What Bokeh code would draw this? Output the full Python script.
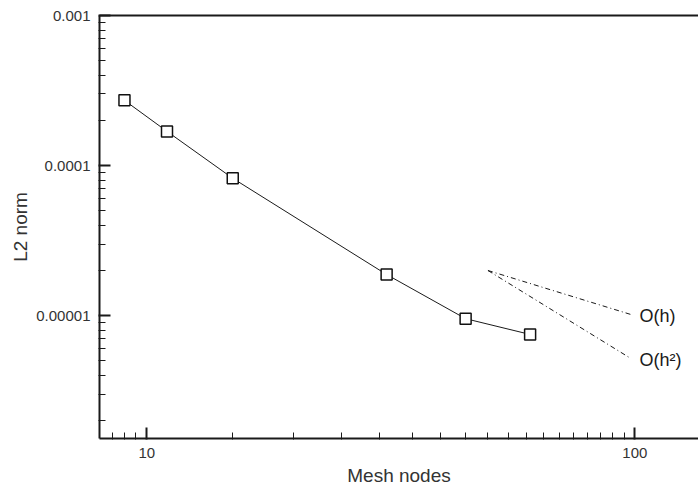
from bokeh.plotting import figure
from bokeh.models import LogAxis, FixedTicker, Range1d
from bokeh.core.properties import value
from bokeh.embed import file_html
from bokeh.resources import INLINE

# ---- data ----
mesh_nodes = [9, 11, 15, 31, 45, 61]
l2_norm = [2.72e-4, 1.69e-4, 8.23e-5, 1.88e-5, 9.55e-6, 7.5e-6]

ref_x = [50, 98]
ref_oh = [2.0e-5, 1.02e-5]
ref_oh2 = [2.0e-5, 5.2e-6]
ref_labels = ["O(h)", "O(h²)"]

x_lo, x_hi = 8, 135
y_lo, y_hi = 1.52e-6, 1e-3

x_major = [10, 100]
x_major_labels = ["10", "100"]
x_minor = [8.5, 9, 9.5, 15, 20, 25, 30, 35, 40, 45, 50, 55, 60, 65, 70, 75, 80,
           85, 90, 95]
y_major = [1e-3, 1e-4, 1e-5]
y_major_labels = ["0.001", "0.0001", "0.00001"]
y_minor = [2e-6, 3e-6, 4e-6, 5e-6, 6e-6, 7e-6, 8e-6, 9e-6,
           2e-5, 3e-5, 4e-5, 5e-5, 6e-5, 7e-5, 8e-5, 9e-5,
           2e-4, 3e-4, 4e-4, 5e-4, 6e-4, 7e-4, 8e-4, 9e-4]

FONT = "Liberation Sans"
INK = "#1a1a1a"

p = figure(width=698, height=488, x_axis_type="log", y_axis_type="log",
           x_range=Range1d(x_lo, x_hi), y_range=Range1d(y_lo, y_hi),
           output_backend="svg", toolbar_location=None,
           min_border_left=99, min_border_right=0, min_border_top=15,
           min_border_bottom=50)
p.xgrid.visible = False
p.ygrid.visible = False
p.outline_line_color = None
p.background_fill_color = "white"
p.border_fill_color = "white"

xa = p.xaxis[0]
ya = p.yaxis[0]
xa.ticker = FixedTicker(ticks=x_major, minor_ticks=x_minor)
ya.ticker = FixedTicker(ticks=y_major, minor_ticks=y_minor)
xa.major_label_overrides = dict(zip(x_major, x_major_labels))
ya.major_label_overrides = dict(zip(y_major, y_major_labels))
xa.axis_label = "Mesh nodes"
ya.axis_label = "L2 norm"

for ax in (xa, ya):
    ax.axis_line_width = 2
    ax.axis_line_color = INK
    ax.major_tick_in = 11
    ax.major_tick_out = 1
    ax.minor_tick_in = 6
    ax.minor_tick_out = 1
    ax.major_tick_line_width = 2
    ax.major_tick_line_color = INK
    ax.minor_tick_line_width = 1
    ax.minor_tick_line_color = INK
    ax.major_label_text_font = FONT
    ax.major_label_text_font_size = "15px"
    ax.major_label_text_color = "#333333"
    ax.axis_label_text_font = FONT
    ax.axis_label_text_font_size = "19px"
    ax.axis_label_text_font_style = "normal"
    ax.axis_label_text_color = "#333333"

ya.major_label_standoff = 8
ya.axis_label_standoff = 2
xa.major_label_standoff = 8
xa.axis_label_standoff = 4

top = LogAxis(ticker=FixedTicker(ticks=[], minor_ticks=[]),
              axis_line_width=2, axis_line_color=INK,
              major_tick_line_color=None, minor_tick_line_color=None,
              major_label_text_font_size="0px")
p.add_layout(top, "above")

p.line(mesh_nodes, l2_norm, line_color=INK, line_width=1)
p.scatter(mesh_nodes, l2_norm, marker="square", size=11, fill_color="white",
          line_color="#111111", line_width=1.5)

p.line(ref_x, ref_oh, line_color=INK, line_width=1, line_dash="5 3 1 3")
p.line(ref_x, ref_oh2, line_color=INK, line_width=1, line_dash="5 3 1 3")
p.text(x=[ref_x[-1], ref_x[-1]], y=[ref_oh[-1], ref_oh2[-1]], text=ref_labels,
       text_font=value(FONT), text_font_size="18px", text_baseline="middle",
       text_color=INK, x_offset=9, y_offset=2)

open("out.html", "w").write(file_html(p, INLINE))
